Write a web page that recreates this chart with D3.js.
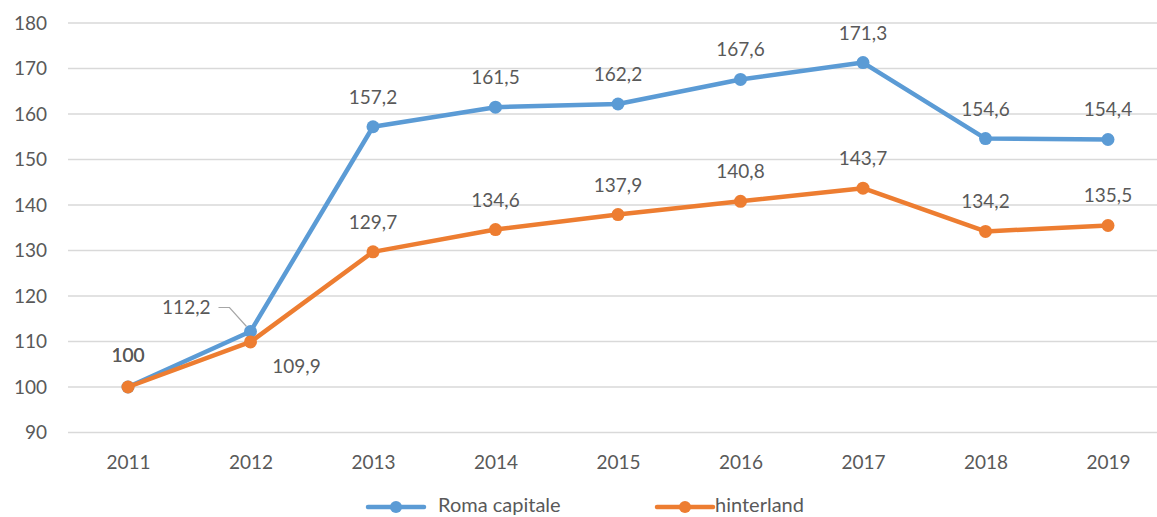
<!DOCTYPE html>
<html><head><meta charset="utf-8">
<script src="https://cdn.jsdelivr.net/npm/d3@7"></script>
<style>body{margin:0;background:#fff;overflow:hidden}text{font-family:Lato,"Open Sans",sans-serif;fill:#595959}</style>
</head><body>
<svg id="c" width="1157" height="517"></svg>
<script>
const years = ["2011","2012","2013","2014","2015","2016","2017","2018","2019"];
const roma = [100,112.2,157.2,161.5,162.2,167.6,171.3,154.6,154.4];
const hinter = [100,109.9,129.7,134.6,137.9,140.8,143.7,134.2,135.5];
const yTicks = [90,100,110,120,130,140,150,160,170,180];
const seriesNames = ["Roma capitale","hinterland"];
const colors = ["#5B9BD5","#ED7D31"];

const FS = 19;
const svg = d3.select("#c");
const x = d3.scalePoint().domain(years).range([128,1108]);
const y = d3.scaleLinear().domain([90,180]).range([432.5,23]);
const fmt = v => String(v).replace(".", ",");

// gridlines
svg.append("g").selectAll("line").data(yTicks).join("line")
  .attr("x1",68).attr("x2",1157).attr("y1",d=>y(d)).attr("y2",d=>y(d))
  .attr("stroke","#d9d9d9").attr("stroke-width",1.3);

// y axis labels
const ya = svg.append("g").attr("transform","translate(47,0)")
  .call(d3.axisLeft(y).tickValues(yTicks).tickSize(0).tickPadding(0));
ya.select(".domain").remove();
ya.selectAll("text").attr("font-size",FS).attr("fill","#595959").attr("font-family","Lato");

// x axis labels
const xa = svg.append("g").attr("transform","translate(0,455)")
  .call(d3.axisBottom(x).tickSize(0).tickPadding(0));
xa.select(".domain").remove();
xa.selectAll("text").attr("font-size",FS).attr("fill","#595959").attr("font-family","Lato");

const line = d3.line().x((d,i)=>x(years[i])).y(d=>y(d));
[roma,hinter].forEach((s,k)=>{
  svg.append("path").datum(s).attr("d",line).attr("fill","none")
    .attr("stroke",colors[k]).attr("stroke-width",4.5).attr("stroke-linejoin","round");
  svg.append("g").selectAll("circle").data(s).join("circle")
    .attr("cx",(d,i)=>x(years[i])).attr("cy",d=>y(d)).attr("r",6.5).attr("fill",colors[k]);
});

// labels
const lab = svg.append("g").attr("font-size",FS);
roma.forEach((v,i)=>{
  if(i===0){
    lab.append("text").attr("x",x(years[i])).attr("y",y(v)-25).attr("text-anchor","middle").attr("fill","#404040").text(fmt(v));
  } else if(i===1){
    lab.append("text").attr("x",x(years[i])-40).attr("y",y(v)-17).attr("text-anchor","end").text(fmt(v));
    const cx = x(years[i]), cy = y(v);
    svg.append("path").attr("d",`M${cx-32},${cy-24}H${cx-21}L${cx-4},${cy-5}`)
      .attr("fill","none").attr("stroke","#a6a6a6").attr("stroke-width",1.2);
  } else {
    lab.append("text").attr("x",x(years[i])).attr("y",y(v)-23).attr("text-anchor","middle").text(fmt(v));
  }
});
hinter.forEach((v,i)=>{
  if(i===0){
    lab.append("text").attr("x",x(years[i])).attr("y",y(v)-25).attr("text-anchor","middle").attr("fill","#404040").text(fmt(v));
  } else if(i===1){
    lab.append("text").attr("x",x(years[i])+46).attr("y",y(v)+31).attr("text-anchor","middle").text(fmt(v));
  } else {
    lab.append("text").attr("x",x(years[i])).attr("y",y(v)-23).attr("text-anchor","middle").text(fmt(v));
  }
});

// legend
const lg = svg.append("g");
const legX = [368,657];
seriesNames.forEach((n,k)=>{
  const g = lg.append("g").attr("transform",`translate(${legX[k]},507)`);
  g.append("line").attr("x1",0).attr("x2",56).attr("stroke",colors[k]).attr("stroke-width",4.5).attr("stroke-linecap","round");
  g.append("circle").attr("cx",28).attr("r",6).attr("fill",colors[k]);
  g.append("text").attr("x",k===0?70:58).attr("y",5).attr("font-size",20).text(n);
});
</script>
</body></html>
